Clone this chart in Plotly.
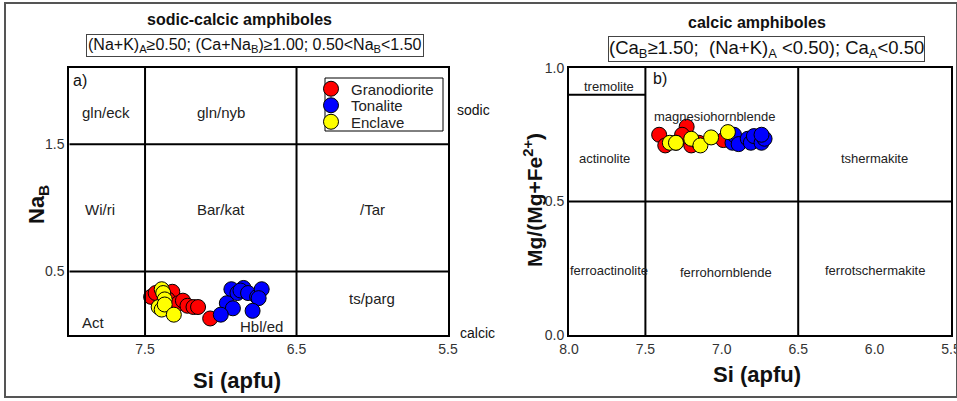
import plotly.graph_objects as go

# ---------------- data ----------------
series_names = ["Granodiorite", "Tonalite", "Enclave"]
series_colors = ["#ff0000", "#0000ff", "#ffff00"]

# panel a) Si (apfu) vs Na_B
a_gran_si = [7.46, 7.43, 7.32, 7.35, 7.28, 7.25, 7.22, 7.18, 7.15, 7.07]
a_gran_na = [0.30, 0.33, 0.34, 0.28, 0.25, 0.27, 0.23, 0.22, 0.22, 0.13]
a_ton_si = [6.93, 6.89, 6.85, 6.87, 6.82, 6.76, 6.73, 6.75, 6.96, 6.92, 7.00, 6.79]
a_ton_na = [0.36, 0.33, 0.37, 0.35, 0.33, 0.30, 0.36, 0.29, 0.25, 0.21, 0.16, 0.19]
a_enc_si = [7.39, 7.38, 7.37, 7.41, 7.39, 7.37, 7.31]
a_enc_na = [0.36, 0.33, 0.28, 0.22, 0.20, 0.24, 0.16]

# panel b) Si (apfu) vs Mg/(Mg+Fe2+)
b_gran_si = [7.41, 7.37, 7.23, 7.26, 7.20, 6.99, 7.30, 7.15]
b_gran_mg = [0.75, 0.71, 0.78, 0.75, 0.71, 0.73, 0.72, 0.72]
b_ton_si = [6.93, 6.92, 6.89, 6.83, 6.81, 6.79, 6.74, 6.72, 6.74]
b_ton_mg = [0.72, 0.75, 0.715, 0.735, 0.72, 0.745, 0.72, 0.735, 0.75]
b_enc_si = [7.34, 7.30, 7.20, 7.14, 7.07, 6.96]
b_enc_mg = [0.72, 0.72, 0.735, 0.71, 0.74, 0.76]

a_xticks = [7.5, 6.5, 5.5]
a_yticks = [0.5, 1.5]
b_xticks = [8.0, 7.5, 7.0, 6.5, 6.0, 5.5]
b_yticks = [0.0, 0.5, 1.0]

a_fields = ["gln/eck", "gln/nyb", "Wi/ri", "Bar/kat", "/Tar", "ts/parg", "Act", "Hbl/ed"]
a_field_si = [7.76, 7.0, 7.8, 7.0, 6.0, 6.0, 7.84, 6.73]
a_field_na = [1.75, 1.75, 0.99, 0.99, 0.99, 0.29, 0.10, 0.07]

b_fields = ["tremolite", "magnesiohornblende", "actinolite", "tshermakite",
            "ferroactinolite", "ferrohornblende", "ferrotschermakite"]
b_field_si = [7.74, 7.05, 7.77, 6.0, 7.74, 6.97, 6.0]
b_field_mg = [0.93, 0.82, 0.66, 0.66, 0.24, 0.235, 0.24]

FONT = "Liberation Sans, Arial, sans-serif"
fig = go.Figure()

legend_ids = ["legend", "legend2", "legend3"]
a_sets = [(a_gran_si, a_gran_na), (a_ton_si, a_ton_na), (a_enc_si, a_enc_na)]
b_sets = [(b_gran_si, b_gran_mg), (b_ton_si, b_ton_mg), (b_enc_si, b_enc_mg)]
for name, col, lid, (xs, ys) in zip(series_names, series_colors, legend_ids, a_sets):
    fig.add_trace(go.Scatter(x=xs, y=ys, mode="markers", name=name, legend=lid,
                             marker=dict(size=15, color=col, line=dict(color="black", width=1)),
                             xaxis="x", yaxis="y"))
for name, col, (xs, ys) in zip(series_names, series_colors, b_sets):
    fig.add_trace(go.Scatter(x=xs, y=ys, mode="markers", name=name, showlegend=False,
                             marker=dict(size=15, color=col, line=dict(color="black", width=1)),
                             xaxis="x2", yaxis="y2"))

ydom = [1 - 335 / 401, 1 - 68 / 401]
axis_common = dict(showgrid=False, zeroline=False, showline=True, mirror=True,
                   linecolor="black", linewidth=2, ticks="", automargin=False,
                   ticklabeloverflow="allow",
                   tickfont=dict(family=FONT, size=14, color="#333"))


def leg(ypix):
    return dict(x=322 / 957, y=1 - ypix / 401, xanchor="left", yanchor="middle",
                bgcolor="rgba(0,0,0,0)", borderwidth=0,
                font=dict(family=FONT, size=15, color="#222"),
                itemwidth=30, indentation=-11)


fig.update_layout(
    width=957, height=401,
    margin=dict(l=0, r=0, t=0, b=0, pad=0, autoexpand=False),
    paper_bgcolor="white", plot_bgcolor="white",
    font=dict(family=FONT, color="#222"),
    xaxis=dict(domain=[69.3 / 957, 448 / 957], range=[8.0, 5.5], tickvals=a_xticks,
               ticktext=[f"{v:.1f}" for v in a_xticks], anchor="y", **axis_common),
    yaxis=dict(domain=ydom, range=[0, 2.1], tickvals=a_yticks,
               ticktext=[f"{v:.1f}" for v in a_yticks], anchor="x", **axis_common),
    xaxis2=dict(domain=[569 / 957, 951 / 957], range=[8.0, 5.5], tickvals=b_xticks,
                ticktext=[f"{v:.1f}" for v in b_xticks], anchor="y2", **axis_common),
    yaxis2=dict(domain=ydom, range=[0, 1.0], tickvals=b_yticks,
                ticktext=[f"{v:.1f}" for v in b_yticks], anchor="x2", **axis_common),
    showlegend=True,
    legend=leg(89),
    legend2=leg(105.5),
    legend3=leg(122),
)

shapes = []
# outer frame
shapes.append(dict(type="rect", xref="paper", yref="paper", x0=5 / 957, x1=1.0,
                   y0=1 - 397 / 401, y1=1 - 3 / 401, line=dict(color="#555", width=2)))
# legend frame
shapes.append(dict(type="rect", xref="paper", yref="paper", x0=325 / 957, x1=443 / 957,
                   y0=1 - 131 / 401, y1=1 - 78 / 401, line=dict(color="black", width=1)))
# panel a lines
for xv in [7.5, 6.5]:
    shapes.append(dict(type="line", xref="x", yref="y", x0=xv, x1=xv, y0=0, y1=2.1,
                       line=dict(color="black", width=2)))
for yv in [0.5, 1.5]:
    shapes.append(dict(type="line", xref="x", yref="y", x0=8.0, x1=5.5, y0=yv, y1=yv,
                       line=dict(color="black", width=2)))
# panel b lines
for xv in [7.5, 6.5]:
    shapes.append(dict(type="line", xref="x2", yref="y2", x0=xv, x1=xv, y0=0, y1=1.0,
                       line=dict(color="black", width=2)))
shapes.append(dict(type="line", xref="x2", yref="y2", x0=8.0, x1=5.5, y0=0.5, y1=0.5,
                   line=dict(color="black", width=2)))
shapes.append(dict(type="line", xref="x2", yref="y2", x0=8.0, x1=7.5, y0=0.9, y1=0.9,
                   line=dict(color="black", width=2)))
fig.update_layout(shapes=shapes)

ann = []
for t, xs, ys in zip(a_fields, a_field_si, a_field_na):
    ann.append(dict(text=t, x=xs, y=ys, xref="x", yref="y", showarrow=False,
                    font=dict(family=FONT, size=15, color="#222")))
for t, xs, ys in zip(b_fields, b_field_si, b_field_mg):
    ann.append(dict(text=t, x=xs, y=ys, xref="x2", yref="y2", showarrow=False,
                    font=dict(family=FONT, size=13, color="#222")))


def pann(text, x, y, size, bold=False, angle=0, xanchor="center", **kw):
    if bold:
        text = f"<b>{text}</b>"
    d = dict(text=text, x=x / 957, y=1 - y / 401, xref="paper", yref="paper",
             showarrow=False, textangle=angle, xanchor=xanchor, yanchor="middle",
             font=dict(family=FONT, size=size, color="#111"))
    d.update(kw)
    return d


ann += [
    pann("a)", 71, 80, 16, xanchor="left"),
    pann("b)", 651, 78, 16, xanchor="left"),
    pann("sodic", 455, 110, 14, xanchor="left"),
    pann("calcic", 458, 333, 14, xanchor="left"),
    pann("sodic-calcic amphiboles", 240, 19, 16, bold=True),
    pann("calcic amphiboles", 757, 22, 16, bold=True),
    pann("(Na+K)<sub>A</sub>≥0.50; (Ca+Na<sub>B</sub>)≥1.00; 0.50&lt;Na<sub>B</sub>&lt;1.50",
         255, 45, 16, bordercolor="#444", borderwidth=1, borderpad=1),
    pann("(Ca<sub>B</sub>≥1.50;  (Na+K)<sub>A</sub> &lt;0.50); Ca<sub>A</sub>&lt;0.50",
         766, 49, 18.5, bordercolor="#444", borderwidth=1, borderpad=0),
    pann("Si (apfu)", 237, 380, 22, bold=True),
    pann("Si (apfu)", 757, 374, 22, bold=True),
    pann("Na<sub>B</sub>", 38, 205, 22, bold=True, angle=-90),
    pann("Mg/(Mg+Fe<sup>2+</sup>)", 533, 200, 21, bold=True, angle=-90),
]
fig.update_layout(annotations=ann)

fig.write_html("out.html", config={"displayModeBar": False},
               post_script="document.body.style.margin='0px';document.body.style.overflow='hidden';")
